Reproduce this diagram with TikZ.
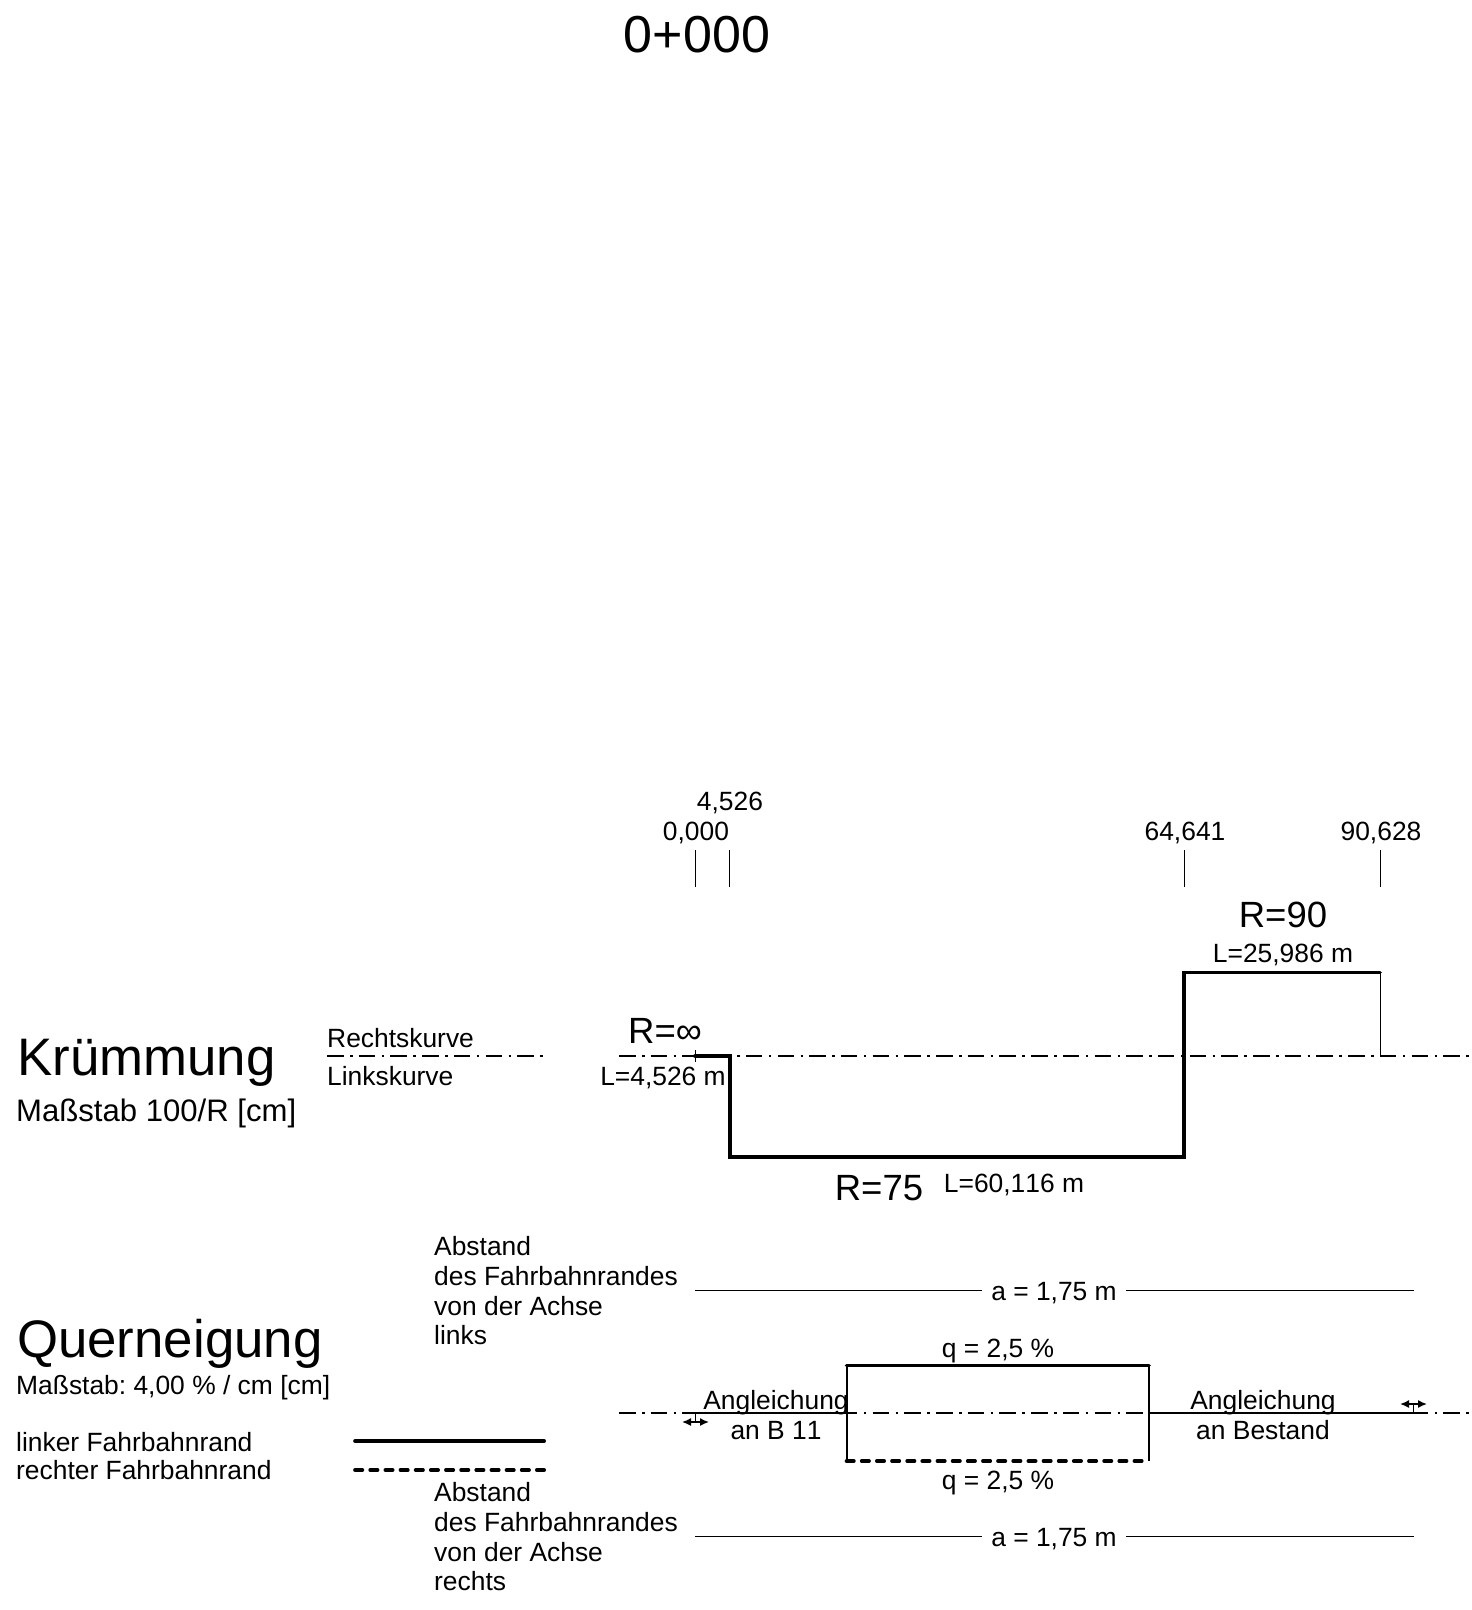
\documentclass[tikz,border=0pt]{standalone}
\usepackage{fontspec}
\setmainfont[Kerning=Off]{Liberation Sans}
\usetikzlibrary{positioning}
\usetikzlibrary{arrows.meta}
\frenchspacing

\tikzset{
    lbl/.style   = {inner sep=0pt, anchor=base, font=\fontsize{26.4}{29.7}\selectfont},
    lbll/.style  = {lbl, anchor=base west},
    radius/.style = {lbl, font=\fontsize{36.5}{40}\selectfont},
    head/.style  = {inner sep=0pt, anchor=base west, font=\fontsize{52.8}{56}\selectfont},
    thin line/.style  = {line width=1pt},
    mid line/.style   = {line width=2pt},
    edge line/.style  = {line width=3.6pt, line cap=round},
    edge dash/.style  = {line width=3.6pt, line cap=round, dash pattern=on 7.4pt off 7.75pt},
    axis line/.style  = {line width=1.1pt, dash pattern=on 16.5pt off 6.5pt on 2.5pt off 6.2pt},
    shift arrow/.style = {line width=1.5pt, {Latex[length=9pt,width=8pt]}-{Latex[length=9pt,width=8pt]}}
}

\begin{document}
\begin{tikzpicture}[x=1pt, y=-1pt]
    \useasboundingbox (0,0) rectangle (1472,1610);

    % Define coordinates
    \coordinate (k0) at (695,1056);
    \coordinate (k1) at (729.7,1056);
    \coordinate (k2) at (729.7,1157);
    \coordinate (k3) at (1184,1157);
    \coordinate (k4) at (1184,972.5);
    \coordinate (k5) at (1380,972.5);
    \coordinate (k6) at (1380,1056);
    \coordinate (k7) at (695,1050);  \coordinate (k8) at (695,1062);
    \coordinate (t0a) at (695,850);  \coordinate (t0b) at (695,887);
    \coordinate (t1a) at (729.7,850);  \coordinate (t1b) at (729.7,887);
    \coordinate (t2a) at (1184,850); \coordinate (t2b) at (1184,887);
    \coordinate (t3a) at (1380,850); \coordinate (t3b) at (1380,887);
    \coordinate (ka) at (619,1056);  \coordinate (kb) at (1472,1056);
    \coordinate (la) at (327,1056);  \coordinate (lb) at (542.5,1056);
    \coordinate (qa) at (619,1413);  \coordinate (qb) at (1472,1413);
    \coordinate (q0) at (695,1413);
    \coordinate (q1) at (846.5,1413);
    \coordinate (q2) at (846.5,1365.5);
    \coordinate (q3) at (1149,1365.5);
    \coordinate (q4) at (1149,1413);
    \coordinate (q5) at (1413,1413);
    \coordinate (q6) at (846.5,1461);
    \coordinate (q7) at (1149,1461);
    \coordinate (s0) at (695,1422);  \coordinate (s0a) at (682,1422); \coordinate (s0b) at (709,1422);
    \coordinate (s1) at (1413,1404); \coordinate (s1a) at (1400,1404); \coordinate (s1b) at (1427,1404);
    \coordinate (la1) at (355,1441); \coordinate (la2) at (544.2,1441);
    \coordinate (lc1) at (355,1470); \coordinate (lc2) at (544.2,1470);
    \coordinate (a1) at (695,1290);  \coordinate (a2) at (982,1290);
    \coordinate (a3) at (1126,1290); \coordinate (a4) at (1414,1290);
    \coordinate (b1) at (695,1536);  \coordinate (b2) at (982,1536);
    \coordinate (b3) at (1126,1536); \coordinate (b4) at (1414,1536);

    % Define nodes
    \node[inner sep=0pt, anchor=base, font=\fontsize{52}{56}\selectfont] (station) at (697,52) {0+000};

    \node[lbl] (s4526) at (730,810) {4,526};
    \node[lbl] (s0000) at (696,840) {0,000};
    \node[lbl] (s64641) at (1185,840) {64,641};
    \node[lbl] (s90628) at (1381,840) {90,628};

    \node[head] (kruemmung) at (17,1075) {Krümmung};
    \node[lbll, font=\fontsize{31.1}{34}\selectfont] (kscale) at (16,1121) {Maßstab 100/R [cm]};
    \node[lbll] (rechts) at (327,1047) {Rechtskurve};
    \node[lbll] (links) at (327,1085) {Linkskurve};

    \node[radius] (r90) at (1283,927) {R=90};
    \node[lbl] (l90) at (1283,962) {L=25,986 m};
    \node[radius, anchor=base west] (rinf) at (628,1043) {R=∞};
    \node[lbl] (linf) at (663,1085) {L=4,526 m};
    \node[radius] (r75) at (879,1200) {R=75};
    \node[lbl] (l75) at (1014,1192) {L=60,116 m};

    \node[head] (querneigung) at (17,1357) {Querneigung};
    \node[lbll] (qscale) at (16,1394) {Maßstab: 4,00 \% / cm [cm]};
    \node[lbll] (lrand) at (16,1451) {linker Fahrbahnrand};
    \node[lbll] (rrand) at (16,1479) {rechter Fahrbahnrand};

    \node[lbl, anchor=north west, align=left] (abstandl) at (434,1236.5) {Abstand\\des Fahrbahnrandes\\von der Achse\\links};
    \node[lbl, anchor=north west, align=left] (abstandr) at (434,1482.5) {Abstand\\des Fahrbahnrandes\\von der Achse\\rechts};

    \node[lbl] (al) at (1054,1300) {a = 1,75 m};
    \node[lbl] (ar) at (1054,1546) {a = 1,75 m};
    \node[lbl] (qt) at (998,1357) {q = 2,5 \%};
    \node[lbl] (qu) at (998,1489) {q = 2,5 \%};
    \node[lbl, anchor=center, align=center] (ang1) at (776,1415) {Angleichung\\an B 11};
    \node[lbl, anchor=center, align=center] (ang2) at (1263,1415) {Angleichung\\an Bestand};

    % Connect nodes
    \draw[axis line] (ka) -- (kb);
    \draw[axis line] (la) -- (lb);
    \draw[axis line] (qa) -- (qb);

    \foreach \i in {0,1,2,3}
        \draw[thin line] (t\i a) -- (t\i b);

    \draw[thin line] (k7) -- (k8);
    \draw[edge line, line join=miter] (k0) -- (k1) -- (k2) -- (k3) -- (k4) -- (k5);
    \draw[thin line] (k5) -- (k6);

    \draw[thin line] (a1) -- (a2) (a3) -- (a4);
    \draw[thin line] (b1) -- (b2) (b3) -- (b4);

    \draw[mid line] (q0) -- (q1);
    \draw[mid line] (q4) -- (q5);
    \draw[mid line] (q2) -- (q6);
    \draw[mid line] (q3) -- (q7);
    \draw[edge line] (q2) -- (q3);
    \draw[edge dash] (q6) -- (q7);
    \draw[thin line] (q0) -- (s0);
    \draw[thin line] (q5) -- (s1);
    \draw[shift arrow] (s0a) -- (s0b);
    \draw[shift arrow] (s1a) -- (s1b);

    \draw[edge line] (la1) -- (la2);
    \draw[edge dash] (lc1) -- (lc2);
\end{tikzpicture}
\end{document}
